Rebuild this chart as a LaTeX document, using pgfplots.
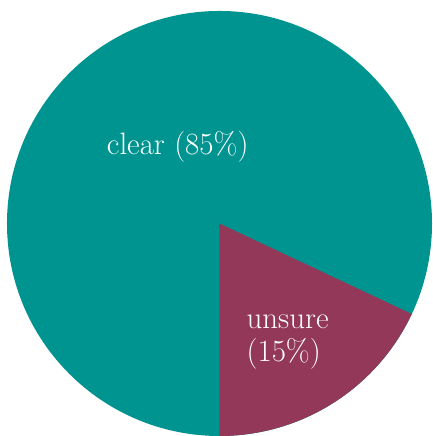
\documentclass[border=0pt]{standalone}
\usepackage{pgfplots}
\pgfplotsset{compat=1.18}
\definecolor{cteal}{RGB}{0,148,144}
\definecolor{cmaroon}{RGB}{147,56,88}
\begin{document}
\begin{tikzpicture}
\begin{axis}[
  scale only axis, width=433pt, height=436pt,
  xmin=0, xmax=433, ymin=0, ymax=436,
  hide axis, clip=false]
\path (axis cs:0,0) rectangle (axis cs:433,436);
% shares (unsure wedge spans about 18% of the circle)
\def\cx{220}\def\cy{212}\def\R{213}
\def\unsure{18}
\fill[cteal] (axis cs:\cx,\cy) circle[radius=\R pt];
\pgfmathsetmacro{\endang}{-90+3.6*\unsure}
\fill[cmaroon] (axis cs:\cx,\cy) -- ++(-90:\R pt) arc[start angle=-90, end angle=\endang, radius=\R pt] -- cycle;
\node[anchor=base west, text=white, font=\fontsize{31}{34}\selectfont, inner sep=0pt] at (axis cs:107,281) {clear (85\%)};
\node[anchor=base west, text=white, font=\fontsize{31}{34}\selectfont, inner sep=0pt] at (axis cs:247,107) {unsure};
\node[anchor=base west, text=white, font=\fontsize{31}{34}\selectfont, inner sep=0pt] at (axis cs:247,74) {(15\%)};
\end{axis}
\end{tikzpicture}
\end{document}
